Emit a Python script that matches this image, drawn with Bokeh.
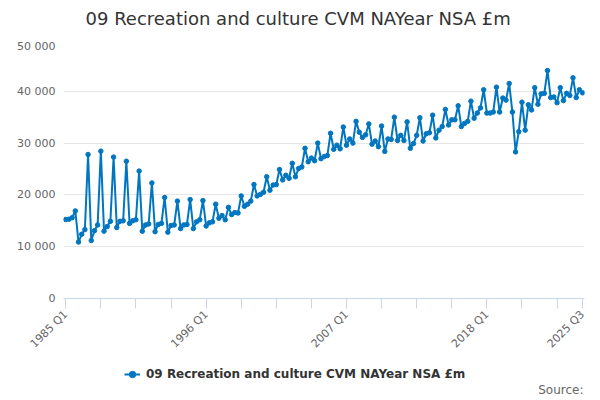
from math import pi

from bokeh.embed import file_html
from bokeh.layouts import column
from bokeh.models import ColumnDataSource, FixedTicker, Label, Legend, LegendItem, Range1d
from bokeh.plotting import figure
from bokeh.resources import INLINE

# quarterly values, 1985 Q1 .. 2025 Q3 (£m)
vals_1985_1994 = [15250, 15300, 15600, 16900, 10900, 12400, 13300, 27800, 11200, 13100,
                  14200, 28450, 13000, 13900, 14900, 27300, 13700, 14900, 15000, 26500,
                  14500, 15000, 15200, 24600, 13000, 14200, 14400, 22300, 12900, 14300,
                  14500, 19500, 12800, 14100, 14200, 18800, 13500, 14200, 14300, 19100]
vals_1995_2004 = [13500, 14800, 15200, 18900, 14000, 14600, 14800, 18200, 15500, 16000,
                  15200, 17600, 16200, 16600, 16500, 19800, 17800, 18200, 18800, 22000,
                  19800, 20100, 20500, 23500, 20900, 21900, 22000, 24900, 22900, 23800,
                  23200, 26100, 23500, 25100, 25400, 29000, 26400, 27100, 26600, 30000]
vals_2005_2014 = [27000, 27400, 27600, 31900, 28800, 29600, 28900, 33100, 29600, 30800,
                  30000, 34200, 32100, 31100, 31600, 33700, 29800, 30400, 29300, 33300,
                  28400, 30800, 30700, 35000, 30500, 31500, 30500, 34100, 29000, 29900,
                  31500, 34900, 30400, 31800, 32000, 35400, 31000, 32500, 33200, 36500]
vals_2015_2025 = [33500, 34500, 34500, 37200, 33200, 33800, 34200, 38100, 34800, 35800,
                  36800, 40300, 35800, 35800, 36000, 40800, 36000, 38700, 38300, 41500,
                  36000, 28300, 32200, 37900, 32500, 37400, 36400, 40700, 37500, 39500,
                  39600, 44000, 38800, 38900, 37800, 40700, 38200, 39600, 39200, 42600,
                  38800, 40300, 39700]

values = vals_1985_1994 + vals_1995_2004 + vals_2005_2014 + vals_2015_2025
quarters = ["%d Q%d" % (1985 + k // 4, k % 4 + 1) for k in range(len(values))]

x_label_quarters = ["1985 Q1", "1996 Q1", "2007 Q1", "2018 Q1", "2025 Q3"]
y_ticks = [0, 10000, 20000, 30000, 40000, 50000]
y_tick_labels = ["0", "10 000", "20 000", "30 000", "40 000", "50 000"]

series_name = "09 Recreation and culture CVM NAYear NSA £m"
blue = "#0076c0"
font = "DejaVu Sans"


def blank_strip(height):
    # plain figure with no axes, used for the title and for the legend/source strip
    # (its frame gets lined up with the main chart's frame by the column layout)
    f = figure(width=600, height=height, output_backend="svg", toolbar_location=None,
               x_axis_location=None, y_axis_location=None,
               x_range=Range1d(0, 1), y_range=Range1d(0, 1),
               min_border_left=0, min_border_right=0, min_border_top=0, min_border_bottom=0)
    f.title = None
    f.outline_line_color = None
    f.grid.visible = False
    return f


# title strip
top = blank_strip(39)
top.add_layout(Label(x=22, y=21, x_units="screen", y_units="screen", text=series_name,
                     text_align="left", text_baseline="middle", text_font=font,
                     text_font_size="18px", text_color="#333333"))

# main chart (the top label overhang eats ~7px of the frame inside the column)
src = ColumnDataSource(data=dict(x=list(range(len(values))), y=values, q=quarters))

p = figure(frame_width=521, frame_height=259, output_backend="svg", toolbar_location=None,
           x_range=Range1d(-0.7, 162.6), y_range=Range1d(0, 50000),
           min_border_left=63, min_border_right=16, min_border_top=0, min_border_bottom=56)
p.title = None
p.outline_line_color = None

ln = p.line("x", "y", source=src, line_color=blue, line_width=2)
p.scatter("x", "y", source=src, size=4.5, fill_color=blue, line_color=blue)

# x axis: small ticks every 11 quarters, labels every 44 and on the last quarter
label_pos = [quarters.index(q) for q in x_label_quarters]
p.xaxis.ticker = FixedTicker(ticks=label_pos, minor_ticks=list(range(0, 160, 11)))
p.xaxis.major_label_overrides = {i: q for i, q in zip(label_pos, x_label_quarters)}
p.xaxis.major_label_orientation = pi / 4
p.xaxis.axis_line_color = "#ccd6eb"
p.xaxis.major_tick_line_color = "#ccd6eb"
p.xaxis.minor_tick_line_color = "#ccd6eb"
p.xaxis.major_tick_out = 10
p.xaxis.major_tick_in = 0
p.xaxis.minor_tick_out = 10
p.xaxis.minor_tick_in = 0
p.xaxis.major_label_text_font = font
p.xaxis.major_label_text_font_size = "11px"
p.xaxis.major_label_text_color = "#666666"
p.xaxis.major_label_standoff = 4
p.xgrid.grid_line_color = None

p.yaxis.ticker = FixedTicker(ticks=y_ticks)
p.yaxis.major_label_overrides = dict(zip(y_ticks, y_tick_labels))
p.yaxis.axis_line_color = None
p.yaxis.major_tick_line_color = None
p.yaxis.minor_tick_line_color = None
p.yaxis.major_tick_out = 0
p.yaxis.major_tick_in = 0
p.yaxis.major_label_text_font = font
p.yaxis.major_label_text_font_size = "11px"
p.yaxis.major_label_text_color = "#666666"
p.yaxis.major_label_standoff = 8
p.ygrid.grid_line_color = "#e6e6e6"

# legend + source strip; the NaN glyphs draw nothing, they only give the legend its swatch
foot = blank_strip(40)
nan = float("nan")
key_line = foot.line(x=[nan], y=[nan], line_color=blue, line_width=2)
key_dot = foot.scatter(x=[nan], y=[nan], size=4.5, fill_color=blue, line_color=blue)
legend = Legend(items=[LegendItem(label=series_name, renderers=[key_line, key_dot])],
                location=(61, 16), orientation="horizontal", border_line_color=None,
                background_fill_alpha=0,
                label_text_font=font, label_text_font_size="12px",
                label_text_font_style="bold", label_text_color="#333333",
                glyph_width=16, glyph_height=16, label_height=16, label_standoff=6,
                padding=2, margin=0)
foot.add_layout(legend)
foot.add_layout(Label(x=520, y=9, x_units="screen", y_units="screen", text="Source:",
                      text_align="right", text_baseline="middle", text_font=font,
                      text_font_size="12px", text_color="#666666"))

page = column(top, p, foot, spacing=0)

open("out.html", "w").write(file_html(page, INLINE))
